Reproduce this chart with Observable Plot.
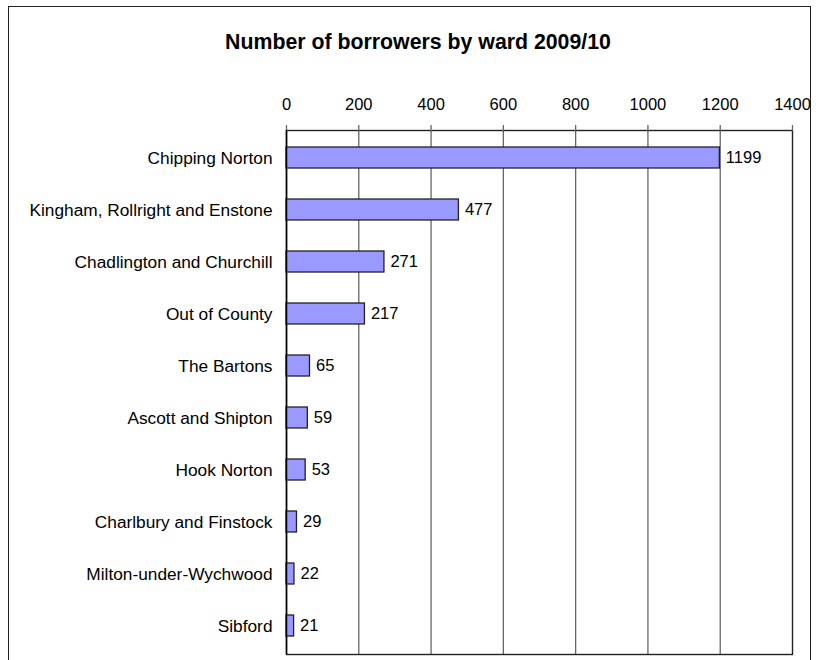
<!DOCTYPE html>
<html>
<head>
<meta charset="utf-8">
<script src="https://cdn.jsdelivr.net/npm/d3@7"></script>
<script src="https://cdn.jsdelivr.net/npm/@observablehq/plot@0.6"></script>
<style>
  html, body { margin: 0; padding: 0; background: #fff; }
  #wrap { position: relative; width: 816px; height: 660px; overflow: hidden; font-family: "Liberation Sans", Arial, sans-serif; }
  #frame { position: absolute; left: 8px; top: 6px; width: 803px; height: 700px; border: 1.5px solid #222; box-sizing: border-box; }
  #title { position: absolute; left: 0; width: 836px; top: 30px; text-align: center; font-weight: bold; font-size: 21.3px; color: #000; }
  #chart { position: absolute; left: 0; top: 0; }
</style>
</head>
<body>
<div id="wrap">
  <div id="frame"></div>
  <div id="title">Number of borrowers by ward 2009/10</div>
  <div id="chart"></div>
</div>
<script>
const wards = ["Chipping Norton", "Kingham, Rollright and Enstone", "Chadlington and Churchill", "Out of County", "The Bartons", "Ascott and Shipton", "Hook Norton", "Charlbury and Finstock", "Milton-under-Wychwood", "Sibford"];
const borrowers = [1199, 477, 271, 217, 65, 59, 53, 29, 22, 21];
const xTicks = [0, 200, 400, 600, 800, 1000, 1200, 1400];

const data = wards.map((w, i) => ({ward: w, value: borrowers[i]}));

const chart = Plot.plot({
  width: 816,
  height: 660,
  marginLeft: 286,
  marginRight: 24,
  marginTop: 130,
  marginBottom: 6,
  style: { fontFamily: "'Liberation Sans', Arial, sans-serif", fontSize: "16.5px", color: "#000", background: "transparent", overflow: "visible" },
  x: { domain: [0, 1400], axis: null, label: null },
  y: { domain: wards, paddingInner: 0.59, paddingOuter: 0.295, axis: null, label: null },
  marks: [
    Plot.ruleX(xTicks.slice(1, -1), { stroke: "#666", strokeWidth: 1.3, strokeOpacity: 1 }),
    Plot.frame({ stroke: "#222", strokeWidth: 1.4 }),
    Plot.axisX({ anchor: "top", ticks: xTicks, tickSize: 6, tickPadding: 15, stroke: "#666", strokeWidth: 1.3, strokeOpacity: 1, fill: "#000", fontSize: 16.5, label: null, tickFormat: d => String(d) }),
    Plot.axisY({ anchor: "left", tickSize: 0, tickPadding: 14, fill: "#000", fontSize: 17.3, label: null }),
    Plot.barX(data, { x: "value", y: "ward", fill: "#9999FF", stroke: "#222", strokeWidth: 1.3 }),
    Plot.ruleX([0], { stroke: "#000", strokeWidth: 1.5 }),
    Plot.text(data, { x: "value", y: "ward", text: d => String(d.value), textAnchor: "start", dx: 6, fill: "#000", fontSize: 16.5 })
  ]
});
document.getElementById("chart").appendChild(chart);
</script>
</body>
</html>
